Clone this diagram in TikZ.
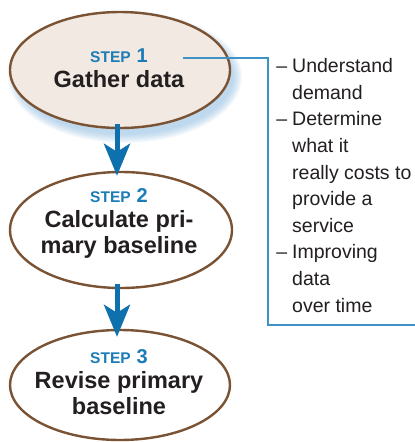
\documentclass[tikz,border=0pt]{standalone}
\usepackage{fontspec}
\setmainfont{Liberation Sans}
\usetikzlibrary{shapes.geometric,arrows.meta}
\definecolor{stepblue}{RGB}{28,124,184}
\definecolor{arrowblue}{RGB}{14,112,172}
\definecolor{linkblue}{RGB}{62,146,196}
\definecolor{rim}{RGB}{122,82,52}
\definecolor{paper}{RGB}{241,233,226}
\definecolor{ink}{RGB}{35,31,32}
\definecolor{haze}{RGB}{140,188,228}
\begin{document}
\begin{tikzpicture}[x=1pt,y=-1pt,
  stage/.style={ellipse, draw=rim, line width=2.4pt, inner sep=0pt,
    minimum width=220pt, minimum height=116pt},
  steplabel/.style={anchor=base, inner sep=0pt, text=stepblue,
    font=\bfseries\fontsize{15.5}{18}\selectfont},
  title/.style={anchor=base, inner sep=0pt, text=ink, align=center,
    font=\bfseries\fontsize{23.5}{25.5}\selectfont},
  flow/.style={draw=arrowblue, line width=5pt,
    -{Stealth[length=32pt,width=26pt,inset=8pt]}},
  bracket/.style={draw=linkblue, line width=1.3pt},
  notes/.style={anchor=base west, inner sep=0pt, text=ink, align=left,
    font=\fontsize{19.5}{26.6}\selectfont}
]
\useasboundingbox (0,0) rectangle (415,442);
\fill[white] (0,0) rectangle (415,442);

% soft blue glow under the first stage
\foreach \i in {0,...,10}
  \fill[haze, opacity=0.065] (125,77) ellipse [x radius={108pt+\i*0.9pt}, y radius={57pt+\i*0.9pt}];

% the three stages
\node[stage, fill=paper] (e1) at (120,70) {};
\node[stage, fill=white, minimum width=222pt] (e2) at (121,230) {};
\node[stage, fill=white, minimum height=110pt] (e3) at (120,385) {};

\node[steplabel] (s1) at (119,62) {STEP\hspace{6pt}{\fontsize{20}{20}\selectfont 1}};
\node[title] (t1) at (119,87) {Gather data};

\node[steplabel] (s2) at (119,202) {STEP\hspace{6pt}{\fontsize{20}{20}\selectfont 2}};
\node[title] (t2) at (119,253) {Calculate pri-\\mary baseline};

\node[steplabel] (s3) at (119,363) {STEP\hspace{6pt}{\fontsize{20}{20}\selectfont 3}};
\node[title] (t3) at (119,414) {Revise primary\\baseline};

% flow between stages
\draw[flow] ([xshift=-3pt,yshift=5pt]e1.south) -- ([xshift=-4pt,yshift=-5pt]e2.north);
\draw[flow] ([xshift=-4pt,yshift=5pt]e2.south) -- ([xshift=-3pt,yshift=-8pt]e3.north);

% notes attached to the first stage
\coordinate (b0) at (183,58);
\coordinate (b1) at (268,58);
\coordinate (b2) at (415,325);
\draw[bracket] (b0) -- (b1) |- (b2);

\node[notes] (list) at (292,312) {\llap{–\hspace{5pt}}Understand\\demand\\\llap{–\hspace{5pt}}Determine\\what it\\really costs to\\provide a\\service\\\llap{–\hspace{5pt}}Improving\\data\\over time};
\end{tikzpicture}
\end{document}
